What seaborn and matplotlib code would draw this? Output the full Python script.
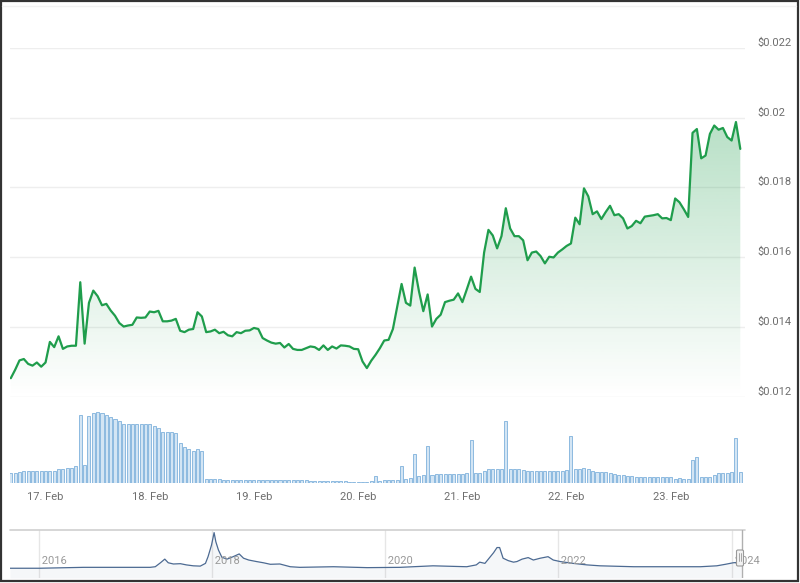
import numpy as np
import pandas as pd
import matplotlib
matplotlib.use("Agg")
import matplotlib.pyplot as plt
import matplotlib.dates as mdates
from matplotlib.transforms import offset_copy
from matplotlib.patches import Rectangle, FancyBboxPatch
from matplotlib.lines import Line2D
import seaborn as sns

# ---------------- data ----------------
start_time = "2024-02-16 16:00"   # hourly series, 169 points
price = [
    0.01253, 0.01277, 0.01304, 0.01308, 0.01294, 0.01289, 0.01298, 0.01286,
    0.01298, 0.01357, 0.01342, 0.01373, 0.01337, 0.01344, 0.01346, 0.01346,
    0.01528, 0.01352, 0.01469, 0.01504, 0.01488, 0.01462, 0.01466, 0.01447,
    0.01432, 0.01411, 0.01401, 0.01404, 0.01406, 0.01427, 0.01426, 0.01427,
    0.01444, 0.01442, 0.01446, 0.01416, 0.01416, 0.01418, 0.01423, 0.01389,
    0.01385, 0.01392, 0.01394, 0.01442, 0.01430, 0.01385, 0.01387, 0.01392,
    0.01382, 0.01386, 0.01376, 0.01373, 0.01385, 0.01382, 0.01389, 0.01390,
    0.01397, 0.01394, 0.01368, 0.01361, 0.01355, 0.01352, 0.01354, 0.01341,
    0.01351, 0.01337, 0.01334, 0.01334, 0.01339, 0.01344, 0.01342, 0.01334,
    0.01347, 0.01334, 0.01344, 0.01338, 0.01347, 0.01346, 0.01344, 0.01337,
    0.01336, 0.01301, 0.01282, 0.01303, 0.01320, 0.01339, 0.01361, 0.01363,
    0.01394, 0.01459, 0.01523, 0.01469, 0.01461, 0.01570, 0.01502, 0.01445,
    0.01493, 0.01401, 0.01423, 0.01435, 0.01471, 0.01475, 0.01478, 0.01496,
    0.01471, 0.01507, 0.01544, 0.01509, 0.01500, 0.01613, 0.01678, 0.01662,
    0.01625, 0.01660, 0.01740, 0.01682, 0.01660, 0.01660, 0.01648, 0.01591,
    0.01613, 0.01616, 0.01603, 0.01582, 0.01601, 0.01599, 0.01613, 0.01622,
    0.01632, 0.01639, 0.01713, 0.01694, 0.01797, 0.01774, 0.01723, 0.01731,
    0.01709, 0.01729, 0.01747, 0.01720, 0.01723, 0.01711, 0.01682, 0.01689,
    0.01704, 0.01697, 0.01716, 0.01718, 0.01720, 0.01723, 0.01711, 0.01712,
    0.01706, 0.01768, 0.01757, 0.01737, 0.01715, 0.01956, 0.01967, 0.01883,
    0.01891, 0.01953, 0.01977, 0.01965, 0.01970, 0.01944, 0.01934, 0.01987,
    0.01910,
]
volume = [
    10.6, 10.6, 11.3, 12.3, 12.3, 12.3, 12.3, 12.3,
    12.3, 12.3, 12.3, 13.9, 14.3, 15.0, 15.3, 17.3,
    68.3, 18.3, 67.3, 70.0, 71.0, 70.0, 68.3, 66.0,
    64.0, 62.6, 59.3, 59.3, 59.3, 59.3, 59.3, 59.3,
    59.3, 57.3, 55.0, 51.6, 51.0, 51.0, 50.0, 40.6,
    36.6, 34.3, 32.3, 34.0, 32.3, 4.3, 4.3, 4.0,
    4.0, 3.8, 3.8, 3.7, 3.6, 3.3, 3.3, 3.3,
    3.3, 3.3, 3.3, 3.3, 3.3, 3.3, 3.3, 3.3,
    3.3, 3.3, 3.3, 3.3, 3.3, 2.3, 2.3, 2.3,
    2.3, 2.3, 2.3, 2.3, 2.3, 2.3, 1.6, 1.6,
    1.6, 1.6, 1.6, 2.7, 7.6, 2.7, 3.0, 3.0,
    3.0, 3.5, 17.7, 4.3, 5.6, 29.0, 7.3, 8.3,
    37.6, 8.3, 9.3, 9.3, 9.3, 9.3, 9.3, 9.3,
    9.3, 10.7, 43.3, 10.7, 10.7, 12.3, 14.0, 14.0,
    14.0, 14.0, 62.7, 14.0, 14.0, 14.0, 13.0, 12.3,
    12.3, 12.3, 12.3, 12.3, 12.3, 12.3, 12.3, 12.3,
    13.3, 47.3, 14.3, 14.3, 15.0, 14.0, 12.3, 11.7,
    11.7, 11.0, 10.7, 9.3, 8.3, 8.3, 7.7, 7.0,
    6.7, 6.7, 6.7, 6.7, 6.7, 6.7, 6.7, 6.7,
    6.0, 4.3, 5.0, 4.3, 4.3, 23.3, 26.7, 6.0,
    6.0, 6.7, 8.3, 10.0, 10.7, 10.7, 11.0, 45.7,
    11.7,
]
nav_year = [
    2015.66, 2016.00, 2016.51, 2017.28, 2017.34, 2017.40, 2017.45, 2017.49,
    2017.55, 2017.63, 2017.70, 2017.78, 2017.86, 2017.92, 2017.95, 2017.99,
    2018.02, 2018.04, 2018.07, 2018.11, 2018.17, 2018.24, 2018.31, 2018.36,
    2018.42, 2018.51, 2018.59, 2018.67, 2018.78, 2018.90, 2019.01, 2019.40,
    2019.79, 2020.17, 2020.55, 2020.94, 2021.05, 2021.09, 2021.15, 2021.19,
    2021.25, 2021.29, 2021.32, 2021.36, 2021.42, 2021.48, 2021.52, 2021.58,
    2021.65, 2021.71, 2021.79, 2021.88, 2021.94, 2022.02, 2022.17, 2022.33,
    2022.48, 2022.87, 2023.25, 2023.64, 2023.83, 2023.93, 2024.02, 2024.11,
]
nav_price = [
    0.001, 0.001, 0.004, 0.004, 0.006, 0.019, 0.031, 0.019,
    0.015, 0.016, 0.012, 0.009, 0.008, 0.017, 0.039, 0.077,
    0.118, 0.088, 0.061, 0.037, 0.031, 0.039, 0.048, 0.034,
    0.028, 0.023, 0.019, 0.014, 0.015, 0.006, 0.004, 0.006,
    0.003, 0.004, 0.009, 0.006, 0.012, 0.021, 0.017, 0.031,
    0.052, 0.069, 0.069, 0.034, 0.026, 0.021, 0.023, 0.031,
    0.036, 0.028, 0.034, 0.039, 0.028, 0.023, 0.017, 0.012,
    0.009, 0.006, 0.006, 0.006, 0.009, 0.014, 0.019, 0.021,
]
price_ticks = [0.012, 0.014, 0.016, 0.018, 0.020, 0.022]
price_tick_labels = ["$0.012", "$0.014", "$0.016", "$0.018", "$0.02", "$0.022"]
day_ticks = ["2024-02-17", "2024-02-18", "2024-02-19", "2024-02-20",
             "2024-02-21", "2024-02-22", "2024-02-23"]
nav_ticks = [2016, 2018, 2020, 2022, 2024]

# ---------------- styling ----------------
sns.set_theme(style="white")
plt.rcParams["font.family"] = ["Roboto", "DejaVu Sans"]

LINE = "#1f9d4c"
GRID = "#eeeeee"
TXT = "#6e6e6e"

times = pd.date_range(start=start_time, periods=len(price), freq="h")
df = pd.DataFrame({"time": times, "price": price, "volume": volume})
nav = pd.DataFrame({"year": nav_year, "price": nav_price})

W, H = 800, 583
fig = plt.figure(figsize=(W / 100, H / 100), dpi=100)
fig.patch.set_facecolor("white")

def px_axes(x0, y0, x1, y1):
    return fig.add_axes([x0 / W, 1 - y1 / H, (x1 - x0) / W, (y1 - y0) / H])

ax = px_axes(10, 47.7, 745, 396.7)
axv = px_axes(10, 405, 745, 483.3)
axn = px_axes(10, 530, 745, 578)

xmin = pd.Timestamp("2024-02-16 15:49")
xmax = pd.Timestamp("2024-02-23 17:05")

for a in (ax, axv, axn):
    a.set_facecolor("none")
    for s in a.spines.values():
        s.set_visible(False)

# ---- main price panel ----
for t in price_ticks:
    ax.axhline(t, color=GRID, lw=1.0, zorder=0)

sns.lineplot(data=df, x="time", y="price", ax=ax, color=LINE, lw=1.6, zorder=3)

poly = ax.fill_between(df["time"], df["price"], 0.012, color="none", lw=0)
grad = np.zeros((256, 1, 4))
rgb = matplotlib.colors.to_rgb(LINE)
grad[..., 0], grad[..., 1], grad[..., 2] = rgb
grad[:, 0, 3] = np.linspace(0.40, 0.0, 256)
x0n, x1n = mdates.date2num(xmin), mdates.date2num(xmax)
im = ax.imshow(grad, extent=[x0n, x1n, 0.012, 0.022], aspect="auto",
               origin="upper", zorder=2)
for p in poly.get_paths():
    im.set_clip_path(p, transform=ax.transData)
ax.set_xlim(xmin, xmax)
ax.set_ylim(0.012, 0.022)
ax.set_xticks([])
ax.set_yticks([])
ax.set_xlabel("")
ax.set_ylabel("")

ytrans = offset_copy(ax.get_yaxis_transform(), fig=fig, x=0, y=5, units="dots")
for t, lab in zip(price_ticks, price_tick_labels):
    ax.text(1.0163, t, lab, transform=ytrans, ha="left", va="center",
            fontsize=8, color=TXT)

# ---- volume panel ----
axv.bar(df["time"], df["volume"], width=0.7 / 24, color="#d3e5f4",
        edgecolor="#7eb1dc", linewidth=0.6, align="center")
axv.set_xlim(xmin, xmax)
axv.set_ylim(0, 78.3)
axv.set_yticks([])
axv.set_xticks(pd.to_datetime(day_ticks))
axv.xaxis.set_major_formatter(mdates.DateFormatter("%d. %b"))
axv.tick_params(axis="x", length=0, pad=6, labelsize=8, labelcolor=TXT)
axv.set_xlabel("")
axv.set_ylabel("")

# ---- navigator ----
sns.lineplot(data=nav, x="year", y="price", ax=axn, color="#4c6a92", lw=0.9)
axn.fill_between(nav["year"], nav["price"], -0.031, color="#4c6a92", alpha=0.05, lw=0)
axn.set_xlim(2015.661, 2024.156)
axn.set_ylim(-0.031, 0.1266)
axn.set_xticks([])
axn.set_yticks([])
axn.set_xlabel("")
axn.set_ylabel("")
axn.axhline(0.1266, color="#d0d0d0", lw=1.2, clip_on=False)
for yr in nav_ticks:
    axn.axvline(yr, color="#e6e6e6", lw=1.0, zorder=0)
    axn.text(yr, 0.36, f" {yr}", transform=axn.get_xaxis_transform(),
             ha="left", va="center", fontsize=8, color="#999999")
# navigator handle at the right end (current week)
axn.axvline(2024.12, color="#b0b0b0", lw=1.0)
handle = FancyBboxPatch((736.5 / W, 1 - 566 / H), 7 / W, 16 / H,
                        boxstyle="round,pad=0,rounding_size=0.002",
                        transform=fig.transFigure, facecolor="#f2f2f2",
                        edgecolor="#999999", lw=0.8, zorder=10)
fig.add_artist(handle)
for dx in (739, 741):
    fig.add_artist(Line2D([dx / W, dx / W], [1 - 561 / H, 1 - 553 / H],
                          transform=fig.transFigure, color="#999999", lw=0.6, zorder=11))

# ---- outer frame ----
fig.add_artist(Line2D([2 / W, 796 / W], [1 - 6 / H, 1 - 6 / H],
                      transform=fig.transFigure, color="#f2f2f2", lw=1.0))
fig.add_artist(Rectangle((1 / W, 2 / H), 797 / W, 580 / H, transform=fig.transFigure,
                         fill=False, edgecolor="#333333", lw=1.6))

fig.savefig("out.png", dpi=100)
